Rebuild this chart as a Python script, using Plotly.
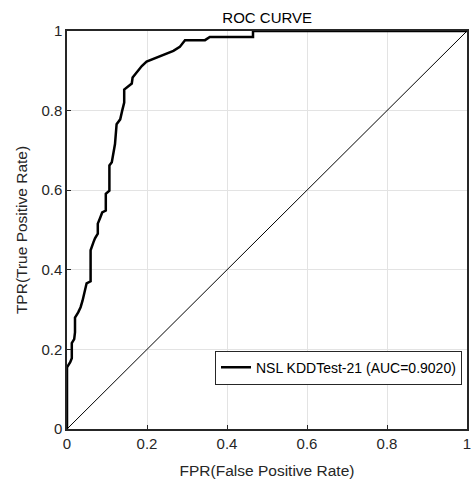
import plotly.graph_objects as go

fpr = [0, 0, 0.008, 0.012, 0.012, 0.018, 0.02, 0.02, 0.028, 0.034, 0.039, 0.043, 0.047, 0.049,
       0.059, 0.059, 0.066, 0.07, 0.077, 0.077, 0.083, 0.088, 0.097, 0.097, 0.106, 0.106, 0.112,
       0.116, 0.12, 0.124, 0.133, 0.138, 0.143, 0.143, 0.152, 0.162, 0.164, 0.174, 0.187, 0.199,
       0.224, 0.249, 0.266, 0.282, 0.295, 0.345, 0.357, 0.465, 0.465, 1.0]
tpr = [0, 0.155, 0.168, 0.178, 0.216, 0.226, 0.243, 0.28, 0.293, 0.306, 0.323, 0.341, 0.353, 0.366,
       0.371, 0.449, 0.469, 0.479, 0.491, 0.516, 0.531, 0.544, 0.549, 0.591, 0.599, 0.662, 0.67,
       0.695, 0.716, 0.766, 0.778, 0.8, 0.82, 0.853, 0.86, 0.868, 0.883, 0.895, 0.912, 0.923,
       0.933, 0.942, 0.95, 0.96, 0.977, 0.977, 0.985, 0.985, 1.0, 1.0]
diag_x = [0, 1]
diag_y = [0, 1]
tick_vals = [0, 0.2, 0.4, 0.6, 0.8, 1]
tick_text = ["0", "0.2", "0.4", "0.6", "0.8", "1"]
series_name = "NSL KDDTest-21 (AUC=0.9020)"

fig = go.Figure()
fig.add_trace(go.Scatter(x=fpr, y=tpr, mode="lines", name=series_name,
                         line=dict(color="black", width=2.5)))
fig.add_trace(go.Scatter(x=diag_x, y=diag_y, mode="lines", showlegend=False,
                         line=dict(color="black", width=1)))

axis_common = dict(range=[0, 1], tickvals=tick_vals, ticktext=tick_text,
                   showgrid=True, gridcolor="#e3e3e3", gridwidth=1, automargin=False,
                   zeroline=False, showline=True, linecolor="#262626", linewidth=1.5,
                   mirror=True, ticks="inside", ticklen=4, tickcolor="#262626",
                   tickfont=dict(size=15, color="#262626"))

fig.update_layout(
    width=473, height=482,
    margin=dict(l=67, r=6, t=31, b=53, autoexpand=False),
    paper_bgcolor="white", plot_bgcolor="white",
    font=dict(family="Liberation Sans, Arial, sans-serif", size=15, color="#262626"),
    title=dict(text="ROC CURVE", x=0.5649, xanchor="center", y=0.963, yanchor="middle",
               automargin=False, font=dict(size=15, color="black")),
    xaxis=dict(axis_common, title=dict(text="FPR(False Positive Rate)", standoff=14,
                                       font=dict(size=15.5, color="#262626"))),
    yaxis=dict(axis_common, title=dict(text="TPR(True Positive Rate)", standoff=10,
                                       font=dict(size=15.5, color="#262626"))),
    legend=dict(x=0.9875, xanchor="right", y=0.197, yanchor="top",
                bgcolor="white", bordercolor="#262626", borderwidth=1,
                font=dict(size=14, color="black"), itemwidth=30,
                tracegroupgap=0),
    showlegend=True,
)

fig.write_html("out.html", config={"displayModeBar": False},
               post_script="document.body.style.margin='0';document.body.style.overflow='hidden';")
